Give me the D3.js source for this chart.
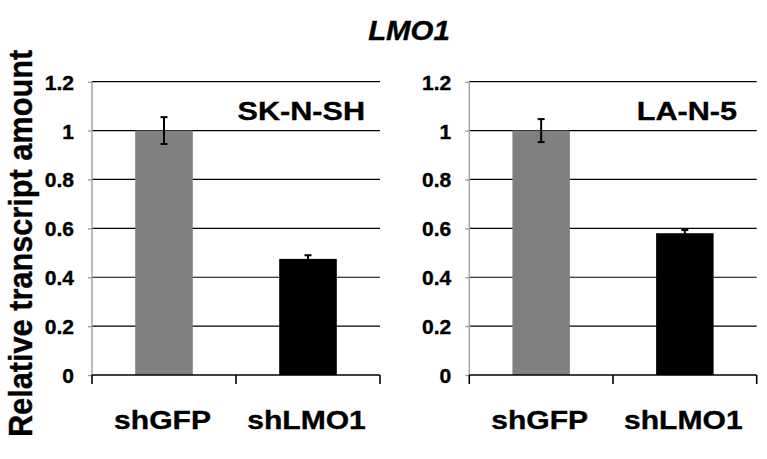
<!DOCTYPE html>
<html>
<head>
<meta charset="utf-8">
<script src="https://cdn.jsdelivr.net/npm/d3@7"></script>
<style>
  html, body { margin: 0; padding: 0; background: #fff; }
  svg { display: block; }
  text { font-family: "Liberation Sans", Arial, Helvetica, sans-serif; font-weight: bold; fill: #000; stroke: #000; stroke-width: 0.35px; }
</style>
</head>
<body>
<script>
// ---- data ----
const categories = ["shGFP", "shLMO1"];
const skValues = [1.0, 0.475];
const skErrors = [0.055, 0.015];
const laValues = [1.0, 0.58];
const laErrors = [0.047, 0.013];
const yTickValues = [0, 0.2, 0.4, 0.6, 0.8, 1.0, 1.2];
const yTickLabels = ["0", "0.2", "0.4", "0.6", "0.8", "1", "1.2"];
const barColors = ["#808080", "#000000"];
const titleText = "LMO1";
const yLabelText = "Relative transcript amount";
const panelNames = ["SK-N-SH", "LA-N-5"];

const W = 767, H = 459;
const svg = d3.select("body").append("svg").attr("width", W).attr("height", H);

const yTop = 81.7, yBottom = 375;
const y = d3.scaleLinear().domain([0, 1.2]).range([yBottom, yTop]);

function stretchedText(g, x, yy, sx, txt, size, anchor, italic) {
  const t = g.append("g").attr("transform", `translate(${x},${yy}) scale(${sx},1)`)
    .append("text")
    .attr("text-anchor", anchor)
    .style("font-size", size + "px")
    .text(txt);
  if (italic) t.style("font-style", "italic");
  return t;
}

function drawPanel(left, right, values, errors, name, nameRight) {
  const g = svg.append("g");
  const x = d3.scaleBand().domain(categories).range([left, right])
    .paddingInner(0.6).paddingOuter(0.3);
  const step = x.step();

  // gridlines (excluding 0)
  g.selectAll(".grid").data(yTickValues.filter(v => v > 0)).enter().append("line")
    .attr("x1", left).attr("x2", right)
    .attr("y1", d => y(d)).attr("y2", d => y(d))
    .attr("stroke", "#000").attr("stroke-width", 1.2);

  // y axis (gray) via d3 axis
  const yAxis = d3.axisLeft(y).tickValues(yTickValues).tickSize(4).tickFormat("");
  const ya = g.append("g").attr("transform", `translate(${left},0)`).call(yAxis);
  ya.selectAll("path, line").attr("stroke", "#a0a0a0").attr("stroke-width", 1.4);
  ya.select("path").attr("d", `M0,${yTop}V${yBottom}`);

  // tick labels
  yTickValues.forEach((v, i) => {
    stretchedText(g, left - 18, y(v) + 8, 1.08, yTickLabels[i], 19.5, "end");
  });

  // bars
  g.selectAll(".bar").data(values).enter().append("rect")
    .attr("x", (d, i) => x(categories[i]))
    .attr("width", x.bandwidth())
    .attr("y", d => y(d))
    .attr("height", d => y(0) - y(d))
    .attr("fill", (d, i) => barColors[i]);

  // error bars
  values.forEach((v, i) => {
    const cx = x(categories[i]) + x.bandwidth() / 2;
    const top = y(v + errors[i]), bot = y(v - errors[i]);
    g.append("line").attr("x1", cx).attr("x2", cx).attr("y1", top).attr("y2", bot)
      .attr("stroke", "#000").attr("stroke-width", 2);
    [top, bot].forEach(yy => g.append("line")
      .attr("x1", cx - 3.5).attr("x2", cx + 3.5).attr("y1", yy).attr("y2", yy)
      .attr("stroke", "#000").attr("stroke-width", 2));
  });

  // bottom axis
  g.append("line").attr("x1", left).attr("x2", right).attr("y1", yBottom).attr("y2", yBottom)
    .attr("stroke", "#000").attr("stroke-width", 1.6);
  d3.range(categories.length + 1).forEach(i => {
    const tx = left + i * step;
    g.append("line").attr("x1", tx).attr("x2", tx).attr("y1", yBottom).attr("y2", yBottom + 9)
      .attr("stroke", "#000").attr("stroke-width", 1.6);
  });

  // category labels
  categories.forEach(c => {
    stretchedText(g, x(c) + x.bandwidth() / 2 - 1.5, 429, 1.18, c, 25.5, "middle");
  });

  // panel name
  stretchedText(g, nameRight, 120, 1.2, name, 25.5, "end");
}

drawPanel(92, 380, skValues, skErrors, panelNames[0], 365);
drawPanel(469.3, 756.7, laValues, laErrors, panelNames[1], 737);

// title
stretchedText(svg, 409, 39.5, 1.09, titleText, 27, "middle", true);

// y label
svg.append("g").attr("transform", "translate(32,243.5) scale(1.1,1) rotate(-90)")
  .append("text").attr("text-anchor", "middle").style("font-size", "30.7px").text(yLabelText);
</script>
</body>
</html>
